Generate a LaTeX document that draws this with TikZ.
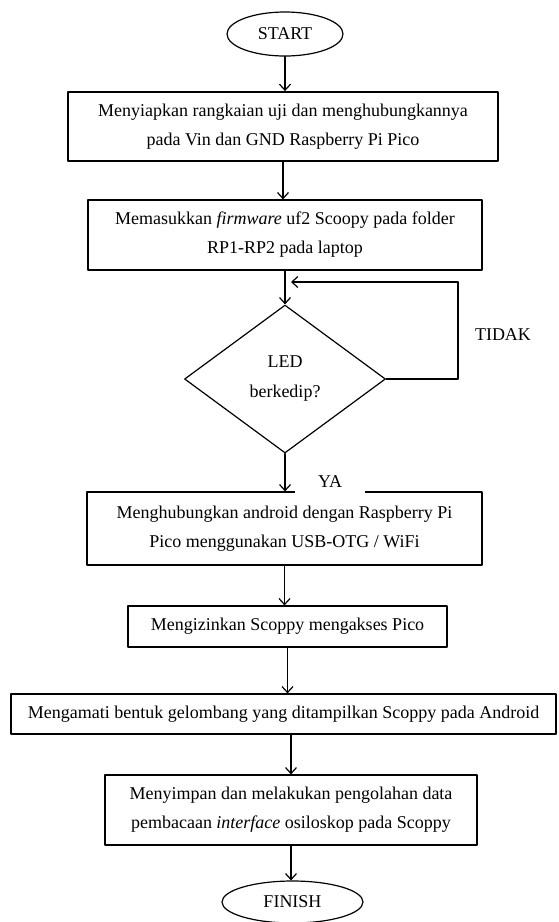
\documentclass[tikz,border=0pt]{standalone}
\usepackage{fontspec}
\setmainfont{Liberation Serif}
\usepackage{pgf,tikz}
\usetikzlibrary{arrows}
\usetikzlibrary{arrows.meta}
\usetikzlibrary{shapes.geometric}
\begin{document}
\begin{tikzpicture}[line cap=round,line join=round,x=1pt,y=-1pt,
procbox/.style={draw,line width=1.2pt,inner sep=0pt,align=center,font=\fontsize{18}{29}\selectfont},
termnode/.style={draw,ellipse,line width=1.2pt,inner sep=0pt,font=\fontsize{18}{21}\selectfont},
flow/.style={arrows={-Straight Barb[length=6pt,width=11pt]},line width=1.2pt}]
\useasboundingbox (0,0) rectangle (558,922);
\node[termnode,minimum width=116pt,minimum height=44pt] (start) at (285,34) {START};
\node[procbox,line width=1.8pt,minimum width=430pt,minimum height=69pt] (siap) at (283,126.5) {Menyiapkan rangkaian uji dan menghubungkannya\\pada Vin dan GND Raspberry Pi Pico};
\node[procbox,minimum width=394pt,minimum height=70pt] (masuk) at (285,235) {Memasukkan \textit{firmware} uf2 Scoopy pada folder\\RP1-RP2 pada laptop};
\node[procbox,diamond,minimum width=201pt,minimum height=148pt,font=\fontsize{18}{30}\selectfont] (cek) at (285,379) {LED\\berkedip?};
\node[procbox,minimum width=395pt,minimum height=73pt] (hubung) at (284.5,528.5) {Menghubungkan android dengan Raspberry Pi\\Pico menggunakan USB-OTG / WiFi};
\node[procbox,minimum width=319pt,minimum height=41pt] (izin) at (287.5,626.5) {Mengizinkan Scoppy mengakses Pico};
\node[procbox,minimum width=545pt,minimum height=40pt] (amati) at (283.5,714) {Mengamati bentuk gelombang yang ditampilkan Scoppy pada Android};
\node[procbox,minimum width=372pt,minimum height=70pt] (simpan) at (291,810) {Menyimpan dan melakukan pengolahan data\\pembacaan \textit{interface} osiloskop pada Scoppy};
\node[termnode,minimum width=141pt,minimum height=42pt] (finish) at (292.5,902) {FINISH};
%labels
\node[font=\fontsize{18}{21}\selectfont] (tidak) at (503,335) {TIDAK};
\node[fill=white,inner sep=0pt,minimum width=70pt,minimum height=24pt,font=\fontsize{18}{21}\selectfont] (ya) at (330,482) {YA};
\coordinate (balik) at (458,282);
\coordinate (masukcek) at (291,282);
%arrows
\draw[flow] (start) -- (start |- siap.north);
\draw[flow] (siap.south) -- (siap.south |- masuk.north);
\draw[flow] (masuk.south) -- (cek.north);
\draw[line width=1.2pt] (cek.east) -| (balik);
\draw[flow] (balik) -- (masukcek);
\draw[flow] (cek.south) -- (cek.south |- hubung.north);
\draw[flow] (hubung.south) -- (hubung.south |- izin.north);
\draw[flow] (izin.south) -- (izin.south |- amati.north);
\draw[flow] (amati.south -| simpan.north) -- (simpan.north);
\draw[flow] (simpan.south) -- (simpan.south |- finish.north);
\end{tikzpicture}
\end{document}
